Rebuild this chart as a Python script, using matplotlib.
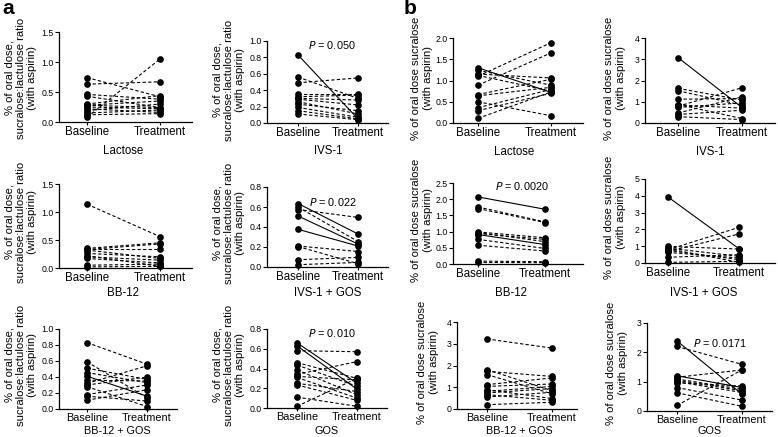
import matplotlib
matplotlib.use("Agg")
import matplotlib.pyplot as plt

plt.rcParams['font.family'] = ['Liberation Sans', 'DejaVu Sans']

W, H = 778, 437
fig = plt.figure(figsize=(W / 100, H / 100), dpi=100)


def fx(px):
    return px / W


def fy(py):
    return 1 - py / H


xcats = ["Baseline", "Treatment"]
ylab_a = "% of oral dose,\nsucralose:lactulose ratio\n(with aspirin)"
ylab_b = "% of oral dose sucralose\n(with aspirin)"

# ---- data (baseline, treatment pairs) ----
a1_base = [0.74, 0.63, 0.46, 0.43, 0.30, 0.28, 0.25, 0.22, 0.19, 0.15, 0.12, 0.08, 0.28]
a1_treat = [0.42, 0.67, 0.38, 0.24, 0.44, 0.35, 0.22, 0.16, 0.30, 0.20, 0.14, 1.05, 0.24]

a2_base = [0.83, 0.56, 0.49, 0.35, 0.32, 0.29, 0.26, 0.23, 0.19, 0.15, 0.11, 0.30]
a2_treat = [0.05, 0.30, 0.55, 0.35, 0.34, 0.22, 0.11, 0.15, 0.07, 0.05, 0.04, 0.28]

b1_base = [0.11, 0.29, 0.36, 0.50, 0.64, 0.67, 0.89, 1.10, 1.15, 1.24, 1.30, 1.12]
b1_treat = [0.73, 0.70, 0.79, 0.17, 0.84, 1.03, 1.65, 1.89, 1.06, 0.89, 0.72, 0.75]

b2_base = [3.08, 1.63, 1.52, 1.12, 0.87, 0.79, 0.73, 0.47, 0.40, 0.30, 0.85]
b2_treat = [0.73, 1.08, 0.84, 1.15, 0.21, 1.66, 0.95, 1.23, 0.60, 0.16, 0.70]

a3_base = [1.14, 0.35, 0.33, 0.34, 0.32, 0.26, 0.20, 0.17, 0.05, 0.02, 0.22]
a3_treat = [0.56, 0.45, 0.43, 0.34, 0.17, 0.20, 0.14, 0.09, 0.07, 0.03, 0.03]

a4_base = [0.635, 0.575, 0.51, 0.377, 0.21, 0.205, 0.073, 0.023, 0.60]
a4_treat = [0.33, 0.496, 0.23, 0.21, 0.155, 0.033, 0.096, 0.046, 0.255]

b3_base = [2.07, 1.76, 1.71, 0.99, 0.94, 0.97, 0.91, 0.76, 0.58, 0.09, 0.05]
b3_treat = [1.69, 1.30, 1.28, 0.81, 0.76, 0.69, 0.60, 0.48, 0.40, 0.07, 0.04]

b4_base = [3.93, 0.99, 0.89, 0.79, 0.69, 0.63, 0.34, 0.04, 0.75, 0.85]
b4_treat = [0.85, 0.83, 0.40, 2.12, 1.73, 0.30, 0.50, 0.10, 0.20, 0.04]

a5_base = [0.83, 0.59, 0.51, 0.455, 0.41, 0.36, 0.32, 0.30, 0.28, 0.18, 0.16, 0.11]
a5_treat = [0.56, 0.14, 0.37, 0.33, 0.16, 0.35, 0.54, 0.40, 0.03, 0.30, 0.10, 0.24]

a6_base = [0.66, 0.63, 0.58, 0.46, 0.435, 0.385, 0.34, 0.32, 0.31, 0.25, 0.234, 0.11, 0.017]
a6_treat = [0.25, 0.19, 0.57, 0.30, 0.22, 0.134, 0.47, 0.285, 0.10, 0.167, 0.077, 0.017, 0.30]

b5_base = [3.22, 1.81, 1.73, 1.58, 1.12, 1.04, 0.89, 0.81, 0.74, 0.66, 0.55, 0.20]
b5_treat = [2.80, 0.84, 1.50, 0.70, 1.43, 1.15, 0.48, 1.04, 0.94, 0.40, 0.77, 0.31]

b6_base = [2.39, 2.20, 1.20, 1.15, 1.09, 1.05, 1.00, 0.96, 0.80, 0.62, 0.19]
b6_treat = [0.57, 1.59, 0.80, 1.40, 0.74, 0.69, 0.63, 0.85, 0.37, 0.16, 1.40]

groups = ["Lactose", "IVS-1", "BB-12", "IVS-1 + GOS", "BB-12 + GOS", "GOS"]
pvals = ["0.050", "0.022", "0.0020", "0.010", "0.0171"]

# panels: data, group, ylabel, yticks, labels, pvalue, solid-line indices
panels = [
    (a1_base, a1_treat, groups[0], ylab_a, [0, 0.5, 1.0, 1.5], ["0.0", "0.5", "1.0", "1.5"], None, []),
    (a2_base, a2_treat, groups[1], ylab_a, [0, 0.2, 0.4, 0.6, 0.8, 1.0], ["0.0", "0.2", "0.4", "0.6", "0.8", "1.0"], pvals[0], [0]),
    (b1_base, b1_treat, groups[0], ylab_b, [0, 0.5, 1.0, 1.5, 2.0], ["0.0", "0.5", "1.0", "1.5", "2.0"], None, [10]),
    (b2_base, b2_treat, groups[1], ylab_b, [0, 1, 2, 3, 4], ["0", "1", "2", "3", "4"], None, [0]),
    (a3_base, a3_treat, groups[2], ylab_a, [0, 0.5, 1.0, 1.5], ["0.0", "0.5", "1.0", "1.5"], None, []),
    (a4_base, a4_treat, groups[3], ylab_a, [0, 0.2, 0.4, 0.6, 0.8], ["0.0", "0.2", "0.4", "0.6", "0.8"], pvals[1], [0, 2, 3]),
    (b3_base, b3_treat, groups[2], ylab_b, [0, 0.5, 1.0, 1.5, 2.0, 2.5], ["0.0", "0.5", "1.0", "1.5", "2.0", "2.5"], pvals[2], [0, 6]),
    (b4_base, b4_treat, groups[3], ylab_b, [0, 1, 2, 3, 4, 5], ["0", "1", "2", "3", "4", "5"], None, [0]),
    (a5_base, a5_treat, groups[4], ylab_a, [0, 0.2, 0.4, 0.6, 0.8, 1.0], ["0.0", "0.2", "0.4", "0.6", "0.8", "1.0"], None, [4]),
    (a6_base, a6_treat, groups[5], ylab_a, [0, 0.2, 0.4, 0.6, 0.8], ["0.0", "0.2", "0.4", "0.6", "0.8"], pvals[3], [0, 1]),
    (b5_base, b5_treat, groups[4], ylab_b, [0, 1, 2, 3, 4], ["0", "1", "2", "3", "4"], None, []),
    (b6_base, b6_treat, groups[5], ylab_b, [0, 1, 2, 3], ["0", "1", "2", "3"], pvals[4], [0, 2]),
]

# layout in pixels: left, right, top, bottom, x of Baseline, x of Treatment,
# ylabel centre (x, y), group label y, p-value (x, y), text size
layout = [
    (59, 192, 32, 122, 87, 160, (21, 78), 151, None, 8.3),
    (267, 388, 41, 123, 298, 358, (229, 80), 151, (332, 45), 8.3),
    (453, 583, 38, 123, 478, 551, (422, 78), 152, None, 8.3),
    (645, 775, 38, 123, 678, 742, (615, 78), 152, None, 8.3),
    (59, 192, 184, 268, 87, 160, (21, 222), 293, None, 8.3),
    (267, 388, 187, 267, 298, 358, (229, 223), 293, (333, 202), 8.3),
    (453, 583, 183, 264, 478, 545, (422, 220), 293, (522, 186), 8.3),
    (645, 775, 179, 263, 668, 739, (615, 217), 293, None, 8.3),
    (59, 177, 329, 409, 87, 147, (21, 365), 431, None, 7.8),
    (267, 387, 329, 408, 297, 357, (229, 365), 431, (332, 333), 7.8),
    (457, 577, 322, 409, 487, 552, (428, 362), 431, None, 7.8),
    (647, 772, 323, 411, 677, 742, (617, 363), 431, (720, 343), 7.8),
]

for (base, treat, grp, ylab, yt, ytl, pval, solid), (l, r, t, b, xb, xt, ylxy, gy, pxy, fs) in zip(panels, layout):
    ax = fig.add_axes([fx(l), fy(b), (r - l) / W, (b - t) / H])
    for i, (y0, y1) in enumerate(zip(base, treat)):
        ls = '-' if i in solid else (0, (3, 2))
        ax.plot([0, 1], [y0, y1], color='black', lw=0.8, linestyle=ls,
                marker='o', markersize=3.8, markerfacecolor='black',
                markeredgecolor='black', zorder=3, clip_on=False)
    span = xt - xb
    ax.set_xlim((l - xb) / span, (r - xb) / span)
    ax.set_ylim(0, yt[-1])
    ax.set_yticks(yt)
    ax.set_yticklabels(ytl)
    ax.set_xticks([0, 1])
    ax.set_xticklabels(xcats)
    for s in ('top', 'right'):
        ax.spines[s].set_visible(False)
    for s in ('left', 'bottom'):
        ax.spines[s].set_linewidth(0.9)
    ax.tick_params(axis='y', labelsize=6.3, length=3, width=0.8, pad=1)
    ax.tick_params(axis='x', labelsize=fs, length=2, width=0.8, pad=1)
    fig.text(fx(ylxy[0]), fy(ylxy[1]), ylab, rotation=90, ha='center', va='center',
             multialignment='center', fontsize=8.1, linespacing=1.15)
    fig.text(fx((xb + xt) / 2), fy(gy), grp, ha='center', va='center', fontsize=fs)
    if pval is not None:
        fig.text(fx(pxy[0]), fy(pxy[1]), r"$\it{P}$ = " + pval, ha='center', va='center',
                 fontsize=7.8)

fig.text(fx(2), fy(8), "a", fontsize=15, fontweight='bold', va='center', ha='left')
fig.text(fx(404), fy(8), "b", fontsize=15, fontweight='bold', va='center', ha='left')

fig.savefig("out.png", dpi=100)
